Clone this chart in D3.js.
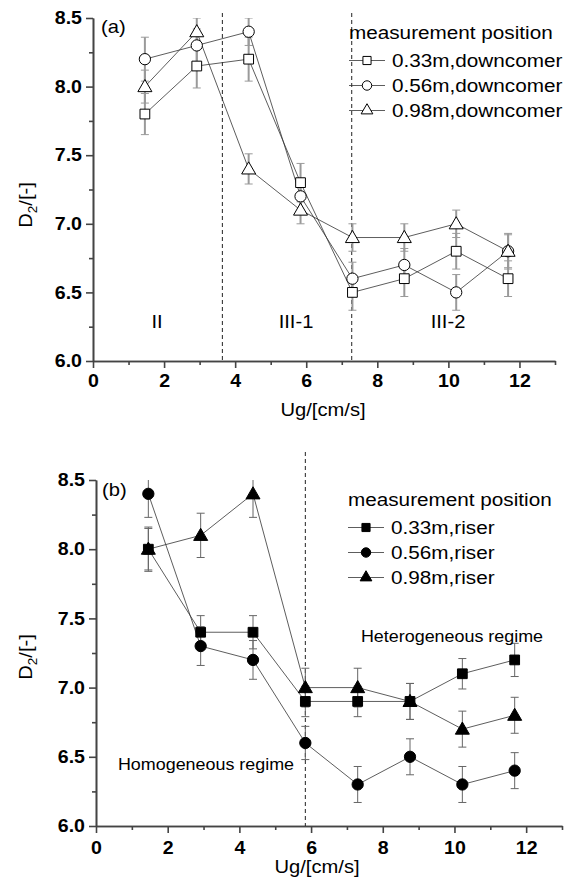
<!DOCTYPE html>
<html>
<head>
<meta charset="utf-8">
<script src="https://cdn.jsdelivr.net/npm/d3@7"></script>
<style>
  body { margin: 0; background: #fff; }
  text { font-family: Arial, "Liberation Sans", sans-serif; }
</style>
</head>
<body>
<div id="chart"></div>
<script>
// data
var ug = [1.46, 2.92, 4.38, 5.84, 7.3, 8.76, 10.22, 11.68];

var down033 = [7.8, 8.15, 8.2, 7.3, 6.5, 6.6, 6.8, 6.6];
var down056 = [8.2, 8.3, 8.4, 7.2, 6.6, 6.7, 6.5, 6.8];
var down098 = [8.0, 8.4, 7.4, 7.1, 6.9, 6.9, 7.0, 6.8];
var down033Err = [0.15, 0.16, 0.16, 0.14, 0.13, 0.13, 0.13, 0.13];
var down056Err = [0.16, 0.12, 0.1, 0.12, 0.12, 0.12, 0.13, 0.12];
var down098Err = [0.12, 0.1, 0.11, 0.1, 0.1, 0.1, 0.1, 0.13];

var riser033 = [8.0, 7.4, 7.4, 6.9, 6.9, 6.9, 7.1, 7.2];
var riser056 = [8.4, 7.3, 7.2, 6.6, 6.3, 6.5, 6.3, 6.4];
var riser098 = [8.0, 8.1, 8.4, 7.0, 7.0, 6.9, 6.7, 6.8];
var riser033Err = [0.16, 0.12, 0.12, 0.11, 0.11, 0.13, 0.11, 0.12];
var riser056Err = [0.17, 0.14, 0.14, 0.12, 0.13, 0.13, 0.13, 0.13];
var riser098Err = [0.15, 0.16, 0.17, 0.14, 0.14, 0.13, 0.13, 0.13];

var xTicks = [0, 2, 4, 6, 8, 10, 12];
var xMinor = [1, 3, 5, 7, 9, 11, 13];
var yTicks = [6.0, 6.5, 7.0, 7.5, 8.0, 8.5];
var yMinor = [6.25, 6.75, 7.25, 7.75, 8.25];

var regimeA = [3.64, 7.28];
var regimeB = [5.84];

// the source picture is a bit wider than tall, so text is stretched a little
var SX = 1.12;

var svg = d3.select("#chart").append("svg")
    .attr("width", 571)
    .attr("height", 885);

var symbolSize = {square: 95, circle: 100, triangle: 85};
var symbolType = {square: d3.symbolSquare, circle: d3.symbolCircle, triangle: d3.symbolTriangle};

function label(g, x, y, str, size, anchor, rotate){
    var t = g.append("text")
        .attr("transform", "translate(" + x + "," + y + ")" + (rotate ? " rotate(-90)" : "") + " scale(" + SX + ",1)")
        .attr("text-anchor", anchor || "start")
        .style("font-size", size + "px");
    if (str) t.text(str);
    return t;
}

var clipId = 0;

function drawPanel(p){
    var x = d3.scaleLinear().domain([0, 13]).range(p.xRange);
    var y = d3.scaleLinear().domain([6, 8.5]).range(p.yRange);
    var g = svg.append("g");

    // axes
    g.append("g")
        .attr("transform", "translate(0," + p.yRange[0] + ")")
        .call(d3.axisBottom(x).tickValues(xTicks).tickSize(7).tickSizeOuter(0).tickPadding(p.xPad).tickFormat(d3.format("d")))
        .selectAll(".tick text").attr("transform", "scale(" + SX + ",1)");
    g.append("g")
        .attr("transform", "translate(0," + p.yRange[0] + ")")
        .call(d3.axisBottom(x).tickValues(xMinor).tickSize(4).tickSizeOuter(0).tickFormat(""));
    g.append("g")
        .attr("transform", "translate(" + p.xRange[0] + ",0)")
        .call(d3.axisLeft(y).tickValues(yTicks).tickSize(7).tickSizeOuter(0).tickFormat(d3.format(".1f")))
        .selectAll(".tick text")
        .attr("x", 0)
        .attr("transform", "translate(-11,0) scale(" + SX + ",1)");
    g.append("g")
        .attr("transform", "translate(" + p.xRange[0] + ",0)")
        .call(d3.axisLeft(y).tickValues(yMinor).tickSize(4).tickSizeOuter(0).tickFormat(""));
    g.selectAll(".domain, .tick line").attr("stroke", "#444").attr("stroke-width", 1.6);
    g.selectAll(".tick text")
        .attr("fill", "#000")
        .style("font-size", "17.5px")
        .style("font-weight", "bold");

    // axis titles
    var yt = label(g, p.yTitle[0], p.yTitle[1], null, 18, "middle", true);
    yt.append("tspan").text("D");
    yt.append("tspan").attr("dy", 5).style("font-size", "12px").text("2");
    yt.append("tspan").attr("dy", -5).text("/[-]");
    label(g, p.xTitle[0], p.xTitle[1], "Ug/[cm/s]", 18, "middle");

    // regime boundaries
    g.selectAll(".regime").data(p.regimes).enter().append("line")
        .attr("x1", function(d){ return x(d); })
        .attr("x2", function(d){ return x(d); })
        .attr("y1", p.dashTop)
        .attr("y2", p.yRange[0])
        .attr("stroke", "#222")
        .attr("stroke-width", 1)
        .attr("stroke-dasharray", "4,3");

    // panel tag
    label(g, p.tag[0], p.tag[1], p.tagText, 18);

    // error bars, clipped at the top of the y range
    clipId++;
    svg.append("clipPath").attr("id", "clip" + clipId)
        .append("rect")
        .attr("x", p.xRange[0]).attr("y", p.yRange[1])
        .attr("width", p.xRange[1] - p.xRange[0])
        .attr("height", p.yRange[0] - p.yRange[1]);
    var eg = g.append("g").attr("clip-path", "url(#clip" + clipId + ")");
    p.series.forEach(function(s){
        s.values.forEach(function(v, i){
            var cx = x(ug[i]), t = y(v + s.err[i]), b = y(v - s.err[i]);
            eg.append("line").attr("x1", cx).attr("x2", cx).attr("y1", t).attr("y2", b)
                .attr("stroke", p.errColor).attr("stroke-width", p.errWidth);
            [t, b].forEach(function(yy){
                eg.append("line").attr("x1", cx - 4).attr("x2", cx + 4).attr("y1", yy).attr("y2", yy)
                    .attr("stroke", p.errColor).attr("stroke-width", 1);
            });
        });
    });

    // connecting lines
    var line = d3.line().x(function(d, i){ return x(ug[i]); }).y(function(d){ return y(d); });
    p.series.forEach(function(s){
        g.append("path").datum(s.values)
            .attr("d", line)
            .attr("fill", "none")
            .attr("stroke", "#333")
            .attr("stroke-width", 0.8);
    });

    // symbols
    p.series.forEach(function(s){
        var sym = d3.symbol().type(symbolType[s.shape]).size(symbolSize[s.shape]);
        g.selectAll(null).data(s.values).enter().append("path")
            .attr("d", sym)
            .attr("transform", function(d, i){
                var dy = s.shape == "triangle" ? 1 : 0;
                return "translate(" + x(ug[i]) + "," + (y(d) + dy) + ")";
            })
            .attr("fill", p.filled ? "#000" : "#fff")
            .attr("stroke", "#000")
            .attr("stroke-width", 1);
    });

    // legend
    var lg = g.append("g");
    label(lg, p.legend[0], p.legend[1], "measurement position", 18.5);
    p.series.forEach(function(s, i){
        var base = p.legend[1] + 28 + i * 25;
        var ry = base - 6.5;
        var lx = p.legend[0];
        lg.append("line").attr("x1", lx).attr("x2", lx + 36).attr("y1", ry).attr("y2", ry)
            .attr("stroke", "#333").attr("stroke-width", 0.8);
        var sym = d3.symbol().type(symbolType[s.shape]).size(symbolSize[s.shape] * 0.7);
        lg.append("path").attr("d", sym)
            .attr("transform", "translate(" + (lx + 18) + "," + ry + ")")
            .attr("fill", p.filled ? "#000" : "#fff")
            .attr("stroke", "#000").attr("stroke-width", 1);
        label(lg, lx + 43, base, s.name, 18.5);
    });

    p.notes.forEach(function(n){
        label(g, n[0], n[1], n[2], n[3], "middle");
    });
}

drawPanel({
    xRange: [93, 555], yRange: [361, 18], xPad: 7,
    yTitle: [32, 205], xTitle: [323, 416],
    regimes: regimeA, dashTop: 13,
    tag: [101, 33], tagText: "(a)",
    errColor: "#9a9a9a", errWidth: 2,
    filled: false,
    legend: [349, 39],
    series: [
        {name: "0.33m,downcomer", shape: "square", values: down033, err: down033Err},
        {name: "0.56m,downcomer", shape: "circle", values: down056, err: down056Err},
        {name: "0.98m,downcomer", shape: "triangle", values: down098, err: down098Err}
    ],
    notes: [[157, 328, "II", 18], [296, 328, "III-1", 18], [448, 328, "III-2", 18]]
});

drawPanel({
    xRange: [96, 562], yRange: [826, 480], xPad: 9,
    yTitle: [32, 657], xTitle: [317, 873],
    regimes: regimeB, dashTop: 452,
    tag: [102, 496], tagText: "(b)",
    errColor: "#666", errWidth: 1,
    filled: true,
    legend: [348, 506],
    series: [
        {name: "0.33m,riser", shape: "square", values: riser033, err: riser033Err},
        {name: "0.56m,riser", shape: "circle", values: riser056, err: riser056Err},
        {name: "0.98m,riser", shape: "triangle", values: riser098, err: riser098Err}
    ],
    notes: [[452, 642, "Heterogeneous regime", 16], [206, 770, "Homogeneous regime", 16]]
});
</script>
</body>
</html>
